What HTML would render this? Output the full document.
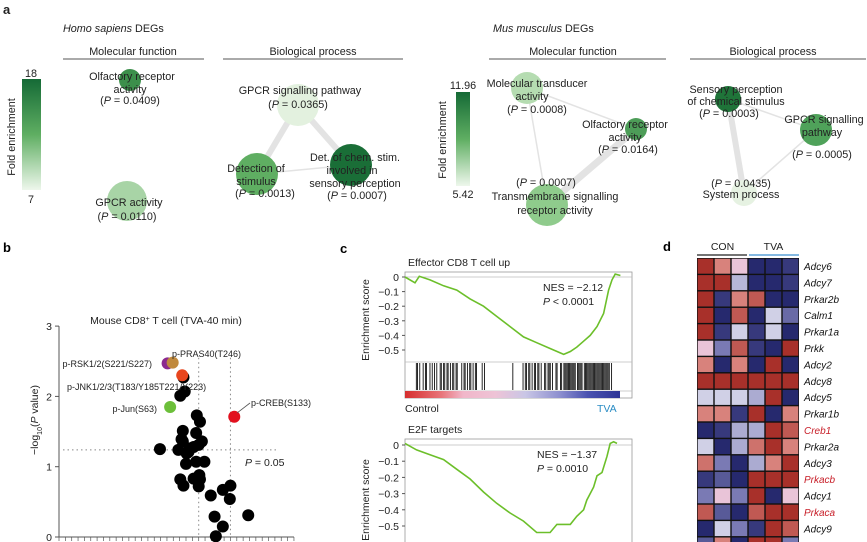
<!DOCTYPE html>
<html><head><meta charset="utf-8"><style>
body{margin:0;background:#fff}
svg{display:block;font-family:"Liberation Sans",Arial,sans-serif}
</style></head><body>
<svg id="fig" width="867" height="542" viewBox="0 0 867 542" xmlns="http://www.w3.org/2000/svg">
<defs>
<linearGradient id="cbL" x1="0" y1="0" x2="0" y2="1"><stop offset="0" stop-color="#156a36"/><stop offset="0.5" stop-color="#5fae62"/><stop offset="1" stop-color="#eef7ec"/></linearGradient>
<linearGradient id="rankbar" x1="0" y1="0" x2="1" y2="0"><stop offset="0" stop-color="#d62e2e"/><stop offset="0.17" stop-color="#e8757a"/><stop offset="0.27" stop-color="#f1b6c9"/><stop offset="0.42" stop-color="#eec3d6"/><stop offset="0.56" stop-color="#c9c6e6"/><stop offset="0.72" stop-color="#8d8fcf"/><stop offset="0.85" stop-color="#4a52b0"/><stop offset="1" stop-color="#2e3595"/></linearGradient>
</defs>

<!-- Panel a -->
<g font-size="10.8" fill="#222">
<text x="3" y="14" font-size="13" font-weight="bold">a</text>
<text x="63" y="32"><tspan font-style="italic">Homo sapiens</tspan> DEGs</text>
<text x="133" y="55" text-anchor="middle">Molecular function</text>
<line x1="63" y1="59" x2="204" y2="59" stroke="#555" stroke-width="1"/>
<text x="313" y="55" text-anchor="middle">Biological process</text>
<line x1="223" y1="59" x2="403" y2="59" stroke="#555" stroke-width="1"/>
<rect x="22" y="79" width="19" height="111" fill="url(#cbL)"/>
<text x="31" y="77" text-anchor="middle">18</text>
<text x="31" y="203" text-anchor="middle">7</text>
<text transform="translate(15,137) rotate(-90)" text-anchor="middle">Fold enrichment</text>
<g stroke="#e3e3e3">
<line x1="298" y1="105" x2="257" y2="174" stroke-width="6"/>
<line x1="298" y1="105" x2="351" y2="165" stroke-width="6"/>
<line x1="257" y1="174" x2="351" y2="165" stroke-width="1.5"/>
</g>
<circle cx="130" cy="80" r="11" fill="#3c8f4b"/>
<circle cx="127" cy="201" r="20" fill="#a8d4a6"/>
<circle cx="298" cy="105" r="21" fill="#e3f1df"/>
<circle cx="257" cy="174" r="21" fill="#5fae62"/>
<circle cx="351" cy="165" r="21" fill="#1a6e37"/>
<g text-anchor="middle">
<text x="132" y="80">Olfactory receptor</text><text x="130" y="93">activity</text><text x="130" y="104">(<tspan font-style="italic">P</tspan> = 0.0409)</text>
<text x="129" y="206">GPCR activity</text><text x="127" y="220">(<tspan font-style="italic">P</tspan> = 0.0110)</text>
<text x="300" y="94">GPCR signalling pathway</text><text x="298" y="108">(<tspan font-style="italic">P</tspan> = 0.0365)</text>
<text x="256" y="172">Detection of</text><text x="256" y="185">stimulus</text><text x="265" y="197">(<tspan font-style="italic">P</tspan> = 0.0013)</text>
<text x="355" y="161">Det. of chem. stim.</text><text x="352" y="174">involved in</text><text x="355" y="187">sensory perception</text><text x="357" y="199">(<tspan font-style="italic">P</tspan> = 0.0007)</text>
</g>

<text x="493" y="32"><tspan font-style="italic">Mus musculus</tspan> DEGs</text>
<text x="573" y="55" text-anchor="middle">Molecular function</text>
<line x1="489" y1="59" x2="666" y2="59" stroke="#555"/>
<text x="773" y="55" text-anchor="middle">Biological process</text>
<line x1="690" y1="59" x2="866" y2="59" stroke="#555"/>
<rect x="456" y="92" width="14" height="94" fill="url(#cbL)"/>
<text x="463" y="89" text-anchor="middle">11.96</text>
<text x="463" y="198" text-anchor="middle">5.42</text>
<text transform="translate(446,140) rotate(-90)" text-anchor="middle">Fold enrichment</text>
<g stroke="#e3e3e3">
<line x1="527" y1="88" x2="636" y2="129" stroke-width="1.5"/>
<line x1="527" y1="88" x2="547" y2="205" stroke-width="1.5"/>
<line x1="636" y1="129" x2="547" y2="205" stroke-width="7"/>
<line x1="728" y1="99" x2="744" y2="193" stroke-width="6"/>
<line x1="728" y1="99" x2="816" y2="130" stroke-width="1.5"/>
<line x1="816" y1="130" x2="744" y2="193" stroke-width="1.5"/>
</g>
<circle cx="527" cy="88" r="16" fill="#b5dcb1"/>
<circle cx="636" cy="129" r="11" fill="#4d9d58"/>
<circle cx="547" cy="205" r="21" fill="#8fcb8c"/>
<circle cx="728" cy="99" r="13" fill="#1f7439"/>
<circle cx="816" cy="130" r="16" fill="#4fa25a"/>
<circle cx="744" cy="193" r="13" fill="#e6f2e2"/>
<g text-anchor="middle">
<text x="537" y="87">Molecular transducer</text><text x="532" y="100">activity</text><text x="537" y="113">(<tspan font-style="italic">P</tspan> = 0.0008)</text>
<text x="625" y="128">Olfactory receptor</text><text x="625" y="141">activity</text><text x="628" y="153">(<tspan font-style="italic">P</tspan> = 0.0164)</text>
<text x="546" y="186">(<tspan font-style="italic">P</tspan> = 0.0007)</text><text x="555" y="200">Transmembrane signalling</text><text x="555" y="214">receptor activity</text>
<text x="736" y="93">Sensory perception</text><text x="736" y="105">of chemical stimulus</text><text x="729" y="117">(<tspan font-style="italic">P</tspan> = 0.0003)</text>
<text x="824" y="123">GPCR signalling</text><text x="822" y="136">pathway</text><text x="822" y="158">(<tspan font-style="italic">P</tspan> = 0.0005)</text>
<text x="741" y="187">(<tspan font-style="italic">P</tspan> = 0.0435)</text><text x="741" y="198">System process</text>
</g>
</g>

<g id="pb"></g>
<g id="pc"></g>
<g id="pd"></g>
</svg>
<script>
// ---- Panel b data ----
const bBlackX=[-0.61,-0.32,-0.25,-0.27,-0.25,-0.04,-0.03,0.02,0.05,0.0,-0.08,-0.14,-0.16,-0.19,-0.04,0.09,-0.20,-0.29,-0.24,-0.08,0.01,0.02,0.0,0.19,0.38,0.50,0.49,0.25,0.38,0.27,0.78,-0.24,-0.22,-0.29];
const bBlackY=[1.25,1.24,1.51,1.39,1.36,1.48,1.73,1.64,1.36,1.31,1.28,1.26,1.21,1.19,1.07,1.07,1.04,0.82,0.73,0.83,0.88,0.82,0.72,0.59,0.67,0.73,0.54,0.29,0.15,0.01,0.31,2.27,2.07,2.01];
const bHitNames=["p-RSK1/2(S221/S227)","p-PRAS40(T246)","p-JNK1/2/3(T183/Y185T221/Y223)","p-Jun(S63)","p-CREB(S133)"];
const bHitX=[-0.49,-0.41,-0.26,-0.45,0.56];
const bHitY=[2.47,2.48,2.30,1.85,1.71];
const bYTicks=[0,1,2,3];
const bThresholdY=[1.24];
const bThresholdX=[0,0.5];
// ---- Panel c data ----
const c1Rank=[0,4.4,6.3,11,17,22.8,28.7,34.6,40.4,46.3,52.2,58,63.9,69.9,72.8,75.7,78.7,81.6,84.6,87.5,89.7,91.2,92.6,94.9];
const c1ES=[0,-0.04,0.005,-0.02,-0.06,-0.09,-0.15,-0.20,-0.27,-0.34,-0.41,-0.45,-0.49,-0.53,-0.51,-0.48,-0.44,-0.40,-0.34,-0.25,-0.09,-0.02,0.02,0.01];
const c2Rank=[0,5.1,11,17,22.8,28.7,34.6,40.4,46.3,52.2,58,63.9,66.9,69.9,72.8,75.7,78.7,80.1,83.1,84.6,86.8,89,90.4,91.9,93.4];
const c2ES=[0.01,-0.03,-0.06,-0.09,-0.15,-0.21,-0.29,-0.36,-0.42,-0.47,-0.54,-0.54,-0.49,-0.49,-0.49,-0.44,-0.40,-0.34,-0.26,-0.19,-0.17,-0.07,0.01,0.02,0.01];
const c1Hits=[5,5.5,6.5,8,9,9.5,11,12,13,14,15.5,16,17,17.5,18.5,19,20,21,21.5,22.5,23,25,26,26.5,27.5,28.5,29,30,31,31.5,34,35,47.5,52,53,53.5,54.5,55,56,57,57.5,58.5,59,60,61.5,62,63,63.5,64,65,66.5,67,68.5,69,70,70.5,71,71.5,72,72.5,73,73.5,74,74.5,75,76,76.5,77,77.5,78,79,79.5,80,80.5,81,81.5,82,82.5,83,83.5,84,84.5,85,85.5,86,86.5,87,87.5,88,88.5,89,89.5,90,91];
const cYTicks=[0,-0.1,-0.2,-0.3,-0.4,-0.5];
// ---- Panel d data ----
const dGenes=["Adcy6","Adcy7","Prkar2b","Calm1","Prkar1a","Prkk","Adcy2","Adcy8","Adcy5","Prkar1b","Creb1","Prkar2a","Adcy3","Prkacb","Adcy1","Prkaca","Adcy9",""];
const dHighlight=["Creb1","Prkacb","Prkaca"];
const dGroups=["CON","TVA"];
const dZ=[
[2,1,0.4,-2,-2,-1.8],[2,2,-0.5,-2,-2,-1.8],[2,-1.8,1,1.5,-2,-2],[2,-2,1.5,-2,-0.3,-1.2],
[2,-1.8,-0.3,-1.8,-0.3,-2],[0.4,-1,1.5,-1.8,-2,2],[1,-2,1,-2,2,-2],[2,2,2,2,2,2],
[-0.3,-0.3,-0.3,-0.6,2,-2],[1,1,-1.8,2,-2,1],[-2,-1.8,-0.6,-0.6,2,1.5],[-0.3,-2,-0.6,1.2,2,1],
[1.2,-1,-2,-0.6,1,2],[-1.8,-1.4,-2,2,2,2],[-1,0.4,-1,2,-2,0.4],[1.5,-1.4,-2,1.5,2,2],
[-2,-0.3,-1,-1.8,2,1.5],[-1.4,1,-2,2,2,-1]];

const NS="http://www.w3.org/2000/svg";
function mk(parent,tag,attrs,text){const e=document.createElementNS(NS,tag);for(const k in attrs)e.setAttribute(k,attrs[k]);if(text!==undefined)e.textContent=text;parent.appendChild(e);return e;}

// ===== Panel b =====
const pb=document.getElementById('pb');
const xb=v=>59+(v+2.2)*63.5, yb=v=>537-v*70.3;
let t=mk(pb,'text',{x:3,y:252,'font-size':13,'font-weight':'bold'},'b');


t=mk(pb,'text',{x:166,y:324,'text-anchor':'middle','font-size':10.5,fill:'#222'});
t.innerHTML='Mouse CD8<tspan baseline-shift="super" font-size="7">+</tspan> T cell (TVA-40 min)';


let ax=mk(pb,'line',{x1:59,y1:yb(3),x2:59,y2:yb(0),stroke:'#555'});


bYTicks.forEach(v=>{
 mk(pb,'line',{x1:55,x2:59,y1:yb(v),y2:yb(v),stroke:'#555'});
 const l=mk(pb,'text',{x:52,y:yb(v)+4,'text-anchor':'end','font-size':10.5,fill:'#222'},String(v));
 
 
});
ax=mk(pb,'line',{x1:59,y1:537,x2:xb(1.5),y2:537,stroke:'#555'});


for(let v=-2.2;v<=1.5001;v+=0.1)mk(pb,'line',{x1:xb(v),x2:xb(v),y1:537,y2:541,stroke:'#555','stroke-width':0.7});
t=mk(pb,'text',{transform:'translate(38,420) rotate(-90)','text-anchor':'middle','font-size':10.5,fill:'#222'});
t.innerHTML='−log<tspan baseline-shift="sub" font-size="7">10</tspan>(<tspan font-style="italic">P</tspan> value)';


bThresholdX.forEach(v=>{
 const g=mk(pb,'line',{x1:xb(v),x2:xb(v),y1:yb(2.55),y2:537,stroke:'#888','stroke-dasharray':'1.5,3'});
 
 
});
let g=mk(pb,'line',{x1:63,x2:276,y1:yb(bThresholdY[0]),y2:yb(bThresholdY[0]),stroke:'#888','stroke-dasharray':'1.5,3'});


t=mk(pb,'text',{x:245,y:yb(bThresholdY[0])+16,'font-size':10.5,fill:'#222'});
t.innerHTML='<tspan font-style="italic">P</tspan> = 0.05';


bBlackX.forEach((v,i)=>{
 const c=mk(pb,'circle',{cx:xb(v),cy:yb(bBlackY[i]),r:6,fill:'#000'});
 
 
});
const hitCol=['#8b2a8f','#c08a3e','#e8461e','#6cbf3a','#e2101e'];
bHitX.forEach((v,i)=>{
 const c=mk(pb,'circle',{cx:xb(v),cy:yb(bHitY[i]),r:6,fill:hitCol[i]});
 
 
});
const lblPos=[[152,367,'end'],[172,357,'start'],[67,390,'start'],[157,412,'end'],[251,406,'start']];
bHitNames.forEach((n,i)=>{
 const l=mk(pb,'text',{x:lblPos[i][0],y:lblPos[i][1],'text-anchor':lblPos[i][2],'font-size':9,fill:'#222'},n);
 
 
});
mk(pb,'line',{x1:xb(bHitX[4])+3,y1:yb(bHitY[4])-4,x2:250,y2:403,stroke:'#555','stroke-width':0.8});

// ===== Panel c =====
const pc=document.getElementById('pc');
t=mk(pc,'text',{x:340,y:253,'font-size':13,'font-weight':'bold'},'c');


const xc=r=>405+r*2.27;
function gsea(top,y0,unit,title,ranks,es,nes,pstr,boxBottom,withHits,idx){
 const yc=v=>y0-v*unit*10;
 let tt=mk(pc,'text',{x:408,y:top-6,'font-size':10.5,fill:'#222'},title);
 
 
 const box=mk(pc,'rect',{x:405,y:top,width:227,height:boxBottom-top,fill:'none',stroke:'#999','stroke-width':0.8});
 
 
 mk(pc,'line',{x1:405,x2:632,y1:yc(0),y2:yc(0),stroke:'#bbb','stroke-width':0.8});
 cYTicks.forEach(v=>{
  mk(pc,'line',{x1:402,x2:405,y1:yc(v),y2:yc(v),stroke:'#555'});
  const l=mk(pc,'text',{x:399,y:yc(v)+4,'text-anchor':'end','font-size':10.5,fill:'#222'},v===0?'0':'−'+Math.abs(v).toFixed(1));
  
  
 });
 const yl=mk(pc,'text',{transform:`translate(369,${withHits?320:500}) rotate(-90)`,'text-anchor':'middle','font-size':10.5,fill:'#222'},'Enrichment score');
 
 
 const pts=ranks.map((r,i)=>xc(r).toFixed(1)+','+yc(es[i]).toFixed(1)).join(' ');
 const pl=mk(pc,'polyline',{points:pts,fill:'none',stroke:'#6cbf2a','stroke-width':1.6});
 
 
 const n1=mk(pc,'text',{x:idx==1?543:537,y:top+19,'font-size':10.5,fill:'#222'},nes);
 
 
 const n2=mk(pc,'text',{x:idx==1?543:537,y:top+33,'font-size':10.5,fill:'#222'});
 n2.innerHTML='<tspan font-style="italic">P</tspan> '+pstr;
 
 
}
gsea(272,277,14.6,'Effector CD8 T cell up',c1Rank,c1ES,'NES = −2.12','< 0.0001',398,true,1);
mk(pc,'line',{x1:405,x2:632,y1:362,y2:362,stroke:'#bbb','stroke-width':0.8});
mk(pc,'line',{x1:405,x2:632,y1:391,y2:391,stroke:'#bbb','stroke-width':0.8});
c1Hits.forEach(r=>{
 const h=mk(pc,'line',{x1:xc(r),x2:xc(r),y1:363,y2:390,stroke:'#111','stroke-width':0.9});
 
 
});
let rb=mk(pc,'rect',{x:405,y:391,width:215,height:7,fill:'url(#rankbar)'});


t=mk(pc,'text',{x:405,y:412,'font-size':10.5,fill:'#222'},'Control');


t=mk(pc,'text',{x:597,y:412,'font-size':10.5,fill:'#2a8cc4'},'TVA');


gsea(439,445,16.2,'E2F targets',c2Rank,c2ES,'NES = −1.37','= 0.0010',560,false,2);

// ===== Panel d =====
const pd=document.getElementById('pd');
t=mk(pd,'text',{x:663,y:251,'font-size':13,'font-weight':'bold'},'d');


const cellW=17, cellH=16.4, hx=697, hy=258;
function zcol(v){
 const stops=[[-2,[38,41,110]],[-1,[122,122,180]],[-0.3,[208,208,230]],[0,[236,224,234]],[0.4,[233,196,216]],[1,[216,130,124]],[2,[168,48,42]]];
 for(let i=0;i<stops.length-1;i++){const a=stops[i],b=stops[i+1];if(v<=b[0]){const f=(v-a[0])/(b[0]-a[0]);return 'rgb('+a[1].map((c,k)=>Math.round(c+(b[1][k]-c)*f)).join(',')+')';}}
 return 'rgb(168,48,42)';
}
mk(pd,'rect',{x:hx,y:hy,width:cellW*6,height:cellH*dZ.length,fill:'#111'});
dGroups.forEach((gname,i)=>{
 const l=mk(pd,'text',{x:hx+cellW*1.5+i*cellW*3,y:250,'text-anchor':'middle','font-size':10.5,fill:'#222'},gname);
 
 
 const b=mk(pd,'line',{x1:hx+i*cellW*3+(i?1:0),x2:hx+(i+1)*cellW*3-(i?0:1),y1:255,y2:255,stroke:i?'#3a8fd0':'#222','stroke-width':1.2});
 
 
});
dZ.forEach((row,r)=>{
 row.forEach((v,c)=>{
  const cell=mk(pd,'rect',{x:hx+c*cellW+0.7,y:hy+r*cellH+0.7,width:cellW-1.4,height:cellH-1.4,fill:zcol(v)});
  
  
 });
 if(dGenes[r]){
  const l=mk(pd,'text',{x:804,y:hy+r*cellH+cellH/2+3.8,'font-size':10,'font-style':'italic',fill:dHighlight.includes(dGenes[r])?'#c8202a':'#111'},dGenes[r]);
  
  
 }
});
</script>
</body></html>
